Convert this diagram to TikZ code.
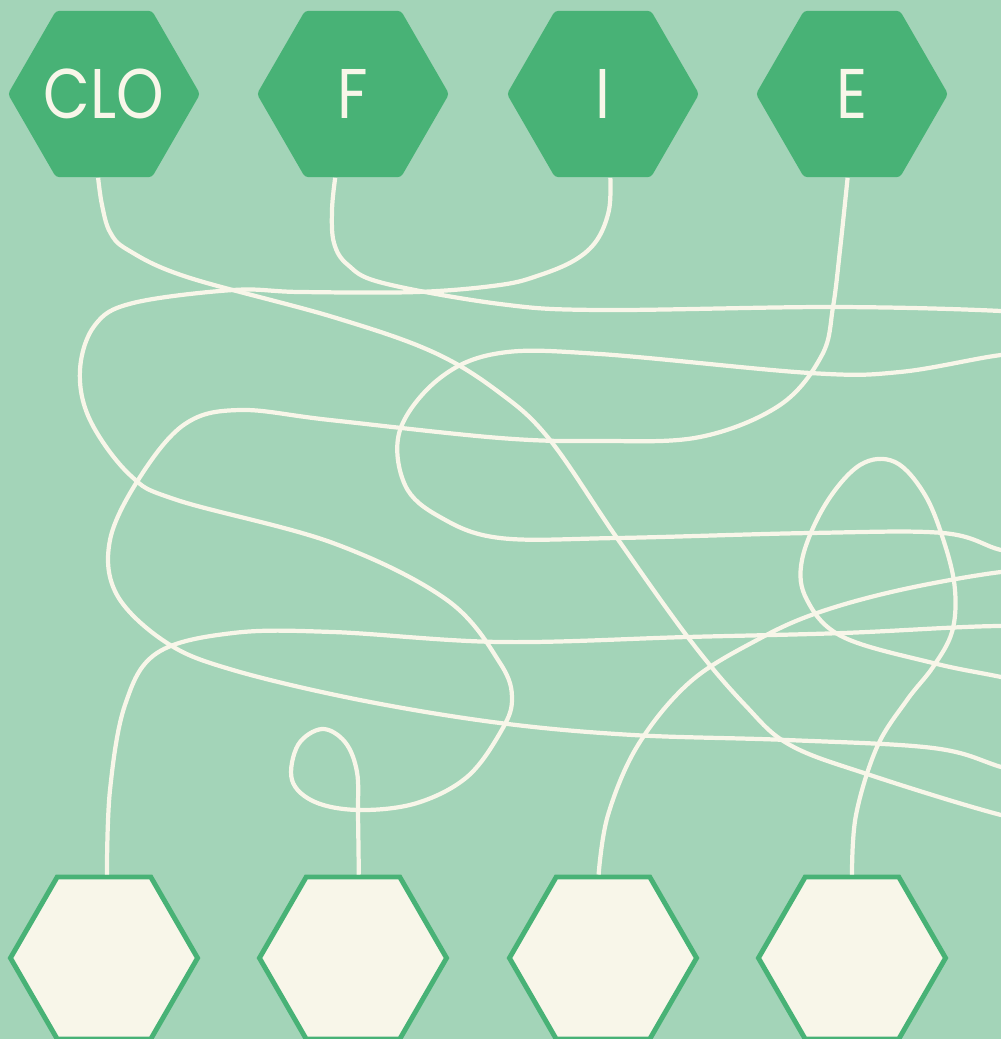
\documentclass[tikz,border=0pt]{standalone}
\usepackage{fontspec}
\newfontfamily\hexfont[FakeStretch=0.86]{Poppins}
\usepackage{tikz}
\usepackage{xcolor}
\usetikzlibrary{shapes.geometric}
\definecolor{bggreen}{HTML}{A3D4B8}
\definecolor{hexgreen}{HTML}{48B276}
\definecolor{cream}{HTML}{F8F6E9}

\begin{document}
\begin{tikzpicture}[x=0.01cm, y=-0.01cm,
  tophex/.style={regular polygon, regular polygon sides=6, minimum size=1.92cm, inner sep=0pt, rounded corners=1pt, fill=hexgreen, text=cream, font=\hexfont\fontsize{20}{22}\selectfont},
  bothex/.style={regular polygon, regular polygon sides=6, minimum size=1.87cm, inner sep=0pt, fill=cream, draw=hexgreen, line width=1.4pt},
  wire/.style={draw=cream, line width=1.2pt}]
\useasboundingbox (0,0) rectangle (1001,1039);
\clip (0,0) rectangle (1001,1039);
\fill[bggreen] (0,0) rectangle (1001,1039);

\node[tophex] (CLO) at (104,94) {\makebox[0pt]{CLO}};
\node[tophex] (F) at (353,94) {\makebox[0pt]{F}};
\node[tophex] (I) at (603,94) {\makebox[0pt]{I}};
\node[tophex] (E) at (852,94) {\makebox[0pt]{E}};

\node[bothex] (B1) at (104,958) {};
\node[bothex] (B2) at (353,958) {};
\node[bothex] (B3) at (603,958) {};
\node[bothex] (B4) at (852,958) {};

\draw[wire] plot[smooth, tension=0.6] coordinates {(CLO.-94) (102,205) (110,232) (128,250) (187,277) (333,317) (433,352) (500,393) (550,440) (617,538) (690,640) (745,705) (790,745) (870,775) (1001,815) (1080,830) (1120,720) (1080,632) (1001,626) (843,633) (687,637) (500,642) (333,632) (233,633) (157,653) (125,705) (110,790) (B1.88)};

\draw[wire] plot[smooth, tension=0.6] coordinates {(F.-102) (332,210) (334,243) (348,265) (383,283) (500,304) (600,310) (833,307) (1001,311) (1060,318) (1090,335) (1060,352) (1001,355) (900,372) (810,373) (600,354) (500,353) (440,378) (400,430) (405,485) (440,517) (500,538) (617,538) (810,533) (943,533) (1001,550) (1050,558) (1070,565) (1050,572) (1001,572) (900,590) (817,613) (757,640) (690,682) (638,745) (608,815) (B3.93.5)};

\draw[wire] plot[smooth, tension=0.6] coordinates {(I.-85) (609,210) (597,240) (575,260) (540,275) (500,285) (417,292) (300,292) (233,290) (133,303) (95,325) (80,370) (90,420) (130,475) (177,500) (333,543) (447,600) (500,663) (512,700) (500,733) (467,777) (417,803) (360,810) (315,802) (292,780) (298,745) (322,729) (345,742) (357,772) (358,815) (B2.86.5)};

\draw[wire] plot[smooth, tension=0.6] coordinates {(E.-93.5) (840,250) (833,307) (822,355) (780,405) (700,437) (600,441) (500,438) (330,420) (240,410) (185,424) (140,477) (110,540) (117,595) (167,643) (233,670) (360,700) (500,723) (633,735) (787,740) (933,748) (1001,767) (1070,790) (1100,730) (1060,690) (1001,677) (933,663) (843,637) (807,600) (802,560) (825,505) (860,465) (895,462) (925,495) (945,545) (955,590) (952,632) (933,667) (907,700) (877,747) (856,815) (B4.north)};
\end{tikzpicture}
\end{document}
